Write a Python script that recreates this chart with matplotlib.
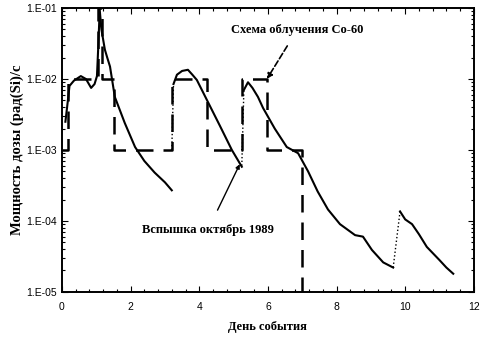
import numpy as np
import matplotlib.pyplot as plt
from matplotlib.ticker import FixedLocator, FuncFormatter, LogLocator, NullFormatter, MultipleLocator

# Схема облучения Co-60 (ступенчатая)
scheme_x = [0.0, 0.17, 0.17, 1.05, 1.05, 1.17, 1.17, 1.52, 1.52, 3.22, 3.22, 4.22, 4.22,
            5.24, 5.24, 5.97, 5.97, 7.0, 7.0]
scheme_y = [1e-3, 1e-3, 1e-2, 1e-2, 1e-1, 1e-1, 1e-2, 1e-2, 1e-3, 1e-3, 1e-2, 1e-2, 1e-3,
            1e-3, 1e-2, 1e-2, 1e-3, 1e-3, 1e-5]

# Вспышка октябрь 1989 - участки
flare1_x = [0.10, 0.15, 0.22, 0.35, 0.55, 0.70, 0.85, 0.95, 1.02, 1.06, 1.10, 1.15, 1.25,
            1.32, 1.40, 1.54, 1.83, 2.13, 2.40, 2.70, 3.00, 3.20]
flare1_y = [2.5e-3, 4e-3, 8e-3, 9.5e-3, 1.1e-2, 1.0e-2, 7.5e-3, 8.5e-3, 1.1e-2, 3e-2, 9.5e-2,
            5e-2, 2.6e-2, 2e-2, 1.5e-2, 5.6e-3, 2.4e-3, 1.1e-3, 7e-4, 4.8e-4, 3.5e-4, 2.7e-4]

flare2_x = [3.25, 3.35, 3.50, 3.67, 3.80, 3.93, 4.22, 4.60, 4.95, 5.24]
flare2_y = [8.5e-3, 1.15e-2, 1.3e-2, 1.35e-2, 1.15e-2, 9.7e-3, 5.1e-3, 2.2e-3, 1.0e-3, 5.8e-4]

flare3_x = [5.30, 5.42, 5.55, 5.71, 5.86, 6.20, 6.55, 6.88, 7.17, 7.45, 7.75, 8.10, 8.54,
            8.77, 9.03, 9.36, 9.65]
flare3_y = [7e-3, 9e-3, 7.5e-3, 5.6e-3, 3.9e-3, 2e-3, 1.1e-3, 9e-4, 5e-4, 2.6e-4, 1.45e-4,
            9e-5, 6.3e-5, 6e-5, 3.9e-5, 2.6e-5, 2.2e-5]

flare4_x = [9.85, 10.0, 10.2, 10.4, 10.63, 11.0, 11.2, 11.4]
flare4_y = [1.36e-4, 1.05e-4, 9e-5, 6.5e-5, 4.3e-5, 2.8e-5, 2.2e-5, 1.8e-5]

# пунктирные подъёмы между участками
rise_x = [[3.20, 3.25], [5.24, 5.30], [9.65, 9.85]]
rise_y = [[1.0e-3, 8.5e-3], [6e-4, 7e-3], [2.2e-5, 1.36e-4]]

yticks = [1e-5, 1e-4, 1e-3, 1e-2, 1e-1]
ytick_labels = ['1.E-05', '1.E-04', '1.E-03', '1.E-02', '1.E-01']

serif = 'Liberation Serif'
sans = 'Liberation Sans'

fig = plt.figure(figsize=(4.84, 3.37), dpi=100)
ax = fig.add_axes([0.128, 0.134, 0.851, 0.842])

ax.plot(scheme_x, scheme_y, color='black', lw=1.8, dashes=(7, 4))
for fx, fy in [(flare1_x, flare1_y), (flare2_x, flare2_y), (flare3_x, flare3_y), (flare4_x, flare4_y)]:
    ax.plot(fx, fy, color='black', lw=1.5)
for rx, ry in zip(rise_x, rise_y):
    ax.plot(rx, ry, color='black', lw=1.0, ls=':')

ax.set_yscale('log')
ax.set_xlim(0, 12)
ax.set_ylim(1e-5, 1e-1)
ax.xaxis.set_major_locator(MultipleLocator(2))
ax.xaxis.set_minor_locator(MultipleLocator(0.4))
ax.yaxis.set_major_locator(FixedLocator(yticks))
ax.yaxis.set_major_formatter(FuncFormatter(lambda v, p: ytick_labels[yticks.index(min(yticks, key=lambda t: abs(np.log10(t) - np.log10(v))))]))
ax.yaxis.set_minor_locator(LogLocator(base=10, subs=np.arange(2, 10)))
ax.yaxis.set_minor_formatter(NullFormatter())

ax.tick_params(which='both', direction='in', top=True, right=True, width=0.8)
ax.tick_params(which='major', length=4, labelsize=7.5)
ax.tick_params(axis='x', which='major', pad=7)
ax.tick_params(which='minor', length=2)
for lab in ax.get_xticklabels() + ax.get_yticklabels():
    lab.set_fontfamily(sans)
for sp in ax.spines.values():
    sp.set_linewidth(1.4)

ax.set_xlabel('День события', fontfamily=serif, fontweight='bold', fontsize=9, labelpad=7)
ax.set_ylabel('Мощность дозы (рад(Si)/с', fontfamily=serif, fontweight='bold', fontsize=10.5, labelpad=2)

ax.annotate('Схема облучения Co-60', xy=(5.97, 1e-2), xytext=(6.85, 0.049),
            fontfamily=serif, fontweight='bold', fontsize=9, ha='center', va='center',
            arrowprops=dict(arrowstyle='-|>', color='black', lw=1.2, ls='--',
                            shrinkA=6, shrinkB=0, mutation_scale=8))
ax.annotate('Вспышка октябрь 1989', xy=(5.18, 6.3e-4), xytext=(4.25, 7.4e-5),
            fontfamily=serif, fontweight='bold', fontsize=9, ha='center', va='center',
            arrowprops=dict(arrowstyle='-|>', color='black', lw=1.0,
                            shrinkA=9, shrinkB=0, mutation_scale=6))

fig.savefig('out.png', dpi=100)
